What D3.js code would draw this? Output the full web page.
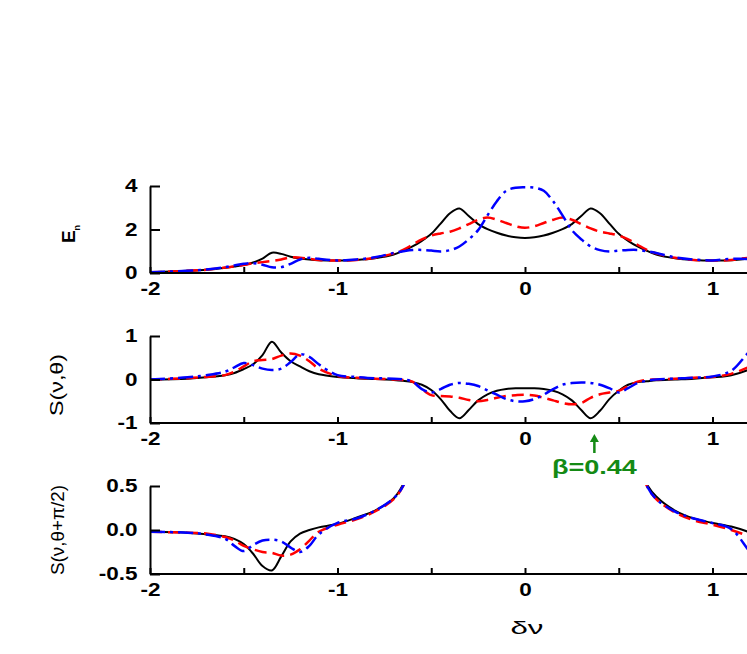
<!DOCTYPE html>
<html>
  <head>
    <meta charset="utf-8">
    <script src="https://d3js.org/d3.v7.min.js"></script>
    <style>
      body { margin: 0; background: #fff; }
      svg { display: block; }
      text { font-family: "Liberation Sans", Arial, sans-serif; }
    </style>
  </head>
<body>
<script type="text/javascript">
"use strict";

// detuning grid shared by all curves
var nu = [-2.0,-1.8,-1.7,-1.6,-1.55,-1.5,-1.45,-1.4,-1.35,-1.3,-1.25,-1.2,-1.15,-1.1,-1.0,-0.9,-0.8,-0.7,-0.65,-0.6,
          -0.55,-0.5,-0.45,-0.4,-0.35,-0.3,-0.25,-0.2,-0.15,-0.1,-0.05,0,0.05,0.1,0.15,0.2,0.25,0.3,0.35,0.4,0.45,0.5,0.55,
          0.6,0.65,0.7,0.8,0.9,1.0,1.1,1.2,1.3];

// E_n
var enBlack = [0.03,0.10,0.15,0.24,0.30,0.37,0.48,0.66,0.93,0.88,0.75,0.67,0.62,0.59,0.57,0.60,0.68,0.85,1.02,1.22,
               1.48,1.80,2.27,2.75,2.97,2.62,2.25,2.02,1.85,1.72,1.64,1.61,1.64,1.72,1.85,2.02,2.25,2.62,2.97,2.75,2.27,1.80,1.48,
               1.22,1.02,0.85,0.68,0.60,0.57,0.59,0.67,0.88];
var enRed = [0.03,0.10,0.15,0.25,0.30,0.37,0.45,0.50,0.55,0.62,0.72,0.70,0.65,0.60,0.57,0.60,0.70,0.90,1.06,1.30,
             1.55,1.72,1.82,1.90,2.05,2.25,2.45,2.55,2.45,2.30,2.15,2.08,2.15,2.30,2.45,2.55,2.45,2.25,2.05,1.90,1.82,1.72,1.55,
             1.30,1.06,0.90,0.70,0.60,0.57,0.60,0.70,0.62];
var enBlue = [0.03,0.10,0.16,0.27,0.35,0.42,0.45,0.38,0.26,0.27,0.42,0.62,0.70,0.65,0.58,0.62,0.72,0.92,1.00,1.06,
              1.06,1.03,0.99,1.05,1.22,1.55,1.97,2.65,3.30,3.78,3.92,3.94,3.92,3.78,3.30,2.65,1.97,1.55,1.22,1.05,0.99,1.03,1.06,
              1.06,1.00,0.92,0.72,0.62,0.58,0.65,0.62,0.27];

// S(nu, theta)
var sBlack = [0.00,0.02,0.05,0.10,0.15,0.24,0.35,0.56,0.87,0.62,0.42,0.30,0.19,0.12,0.06,0.03,0.01,-0.01,-0.03,-0.06,
              -0.12,-0.24,-0.45,-0.72,-0.89,-0.70,-0.48,-0.34,-0.26,-0.22,-0.20,-0.20,-0.20,-0.22,-0.26,-0.34,-0.48,-0.70,-0.89,-0.72,-0.45,-0.26,-0.12,
              -0.06,-0.04,-0.02,0.00,0.02,0.05,0.10,0.24,0.55];
var sRed = [0.00,0.03,0.06,0.10,0.18,0.30,0.42,0.45,0.47,0.55,0.60,0.55,0.42,0.25,0.08,0.04,0.02,0.00,-0.01,-0.05,
            -0.22,-0.36,-0.38,-0.39,-0.42,-0.47,-0.50,-0.47,-0.42,-0.38,-0.36,-0.35,-0.37,-0.42,-0.48,-0.54,-0.57,-0.54,-0.42,-0.34,-0.30,-0.26,-0.15,
            -0.05,-0.01,0.00,0.02,0.04,0.06,0.13,0.30,0.50];
var sBlue = [0.00,0.05,0.10,0.18,0.28,0.38,0.33,0.25,0.22,0.25,0.40,0.58,0.52,0.35,0.10,0.06,0.03,0.02,0.00,-0.05,
             -0.22,-0.30,-0.22,-0.12,-0.08,-0.10,-0.15,-0.25,-0.35,-0.45,-0.50,-0.50,-0.45,-0.35,-0.22,-0.12,-0.08,-0.07,-0.08,-0.12,-0.20,-0.30,-0.20,
             -0.08,-0.03,0.00,0.02,0.04,0.07,0.20,0.65,0.95];

// S(nu, theta + pi/2), goes off scale in the middle
var sqBlack = [-0.02,-0.03,-0.05,-0.07,-0.10,-0.16,-0.27,-0.41,-0.46,-0.30,-0.13,-0.04,0.00,0.03,0.07,0.14,0.22,0.36,0.52,0.80,
               null,null,null,null,null,null,null,null,null,null,null,null,null,null,null,null,null,null,null,null,null,null,null,
               0.80,0.52,0.38,0.22,0.13,0.08,0.04,-0.03,-0.15];
var sqRed = [-0.02,-0.03,-0.04,-0.08,-0.12,-0.18,-0.22,-0.25,-0.26,-0.29,-0.28,-0.22,-0.12,-0.02,0.06,0.12,0.21,0.35,0.50,0.80,
             null,null,null,null,null,null,null,null,null,null,null,null,null,null,null,null,null,null,null,null,null,null,null,
             0.80,0.50,0.35,0.20,0.11,0.06,0.00,-0.08,-0.20];
var sqBlue = [-0.02,-0.03,-0.05,-0.10,-0.18,-0.24,-0.17,-0.12,-0.11,-0.13,-0.20,-0.25,-0.18,-0.05,0.08,0.13,0.22,0.36,0.50,0.80,
              null,null,null,null,null,null,null,null,null,null,null,null,null,null,null,null,null,null,null,null,null,null,null,
              0.80,0.50,0.35,0.21,0.13,0.08,0.01,-0.25,-0.50];

var xTicks = [-2,-1.5,-1,-0.5,0,0.5,1];
var enTicks = [0,2,4];
var sTicks = [-1,0,1];
var sqTicks = [-0.5,0,0.5];
var marker = [{nu: 0.37, label: "\u03b2=0.44"}];

function draw() {
    var width = 747, height = 654;
    var green = "#148a14";

    var svg = d3.select("body").append("svg")
        .attr("width", width)
        .attr("height", height);

    var x = d3.scaleLinear().domain([-2, 2]).range([150, 900]);

    var styles = [
        {color: "#000", dash: null, w: 2},
        {color: "#ff0000", dash: "12,6", w: 2.5},
        {color: "#0000ff", dash: "15,5,3,5", w: 2.5}
    ];

    var panels = [
        {top: 186, bottom: 273, dom: [0, 4], ticks: enTicks, fmt: function(d) { return String(d); },
         series: [enBlack, enRed, enBlue]},
        {top: 336, bottom: 423, dom: [-1, 1], ticks: sTicks, fmt: function(d) { return String(d); },
         series: [sBlack, sRed, sBlue]},
        {top: 486, bottom: 574, dom: [-0.5, 0.5], ticks: sqTicks, fmt: function(d) { return d3.format(".1f")(d).replace("\u2212", "-"); },
         series: [sqBlack, sqRed, sqBlue]}
    ];

    panels.forEach(function(p, i) {
        var y = d3.scaleLinear().domain(p.dom).range([p.bottom, p.top]);

        svg.append("clipPath").attr("id", "clip" + i)
          .append("rect")
            .attr("x", x(-2)).attr("y", p.top - 1)
            .attr("width", x(2) - x(-2)).attr("height", p.bottom - p.top + 1);

        var line = d3.line()
            .defined(function(d) { return d[1] !== null; })
            .x(function(d) { return x(d[0]); })
            .y(function(d) { return y(d[1]); })
            .curve(d3.curveCatmullRom.alpha(0.5));

        var g = svg.append("g").attr("clip-path", "url(#clip" + i + ")");
        p.series.forEach(function(vals, k) {
            var pts = nu.map(function(v, j) { return [v, vals[j]]; });
            g.append("path")
                .attr("d", line(pts))
                .attr("fill", "none")
                .attr("stroke", styles[k].color)
                .attr("stroke-width", styles[k].w)
                .attr("stroke-dasharray", styles[k].dash)
                .attr("stroke-linejoin", "round");
        });

        // axes, ticks pointing inward
        var xa = svg.append("g")
            .attr("transform", "translate(0," + p.bottom + ")")
            .call(d3.axisBottom(x).tickValues(xTicks).tickSizeInner(-6).tickSizeOuter(0).tickPadding(9)
                .tickFormat(function(d) { return Number.isInteger(d) ? String(d) : ""; }));
        xa.select(".domain").attr("d", "M" + x(-2) + ",0H" + width);
        var ya = svg.append("g")
            .attr("transform", "translate(" + x(-2) + ",0)")
            .call(d3.axisLeft(y).tickValues(p.ticks).tickSizeInner(-10).tickSizeOuter(0).tickPadding(10)
                .tickFormat(p.fmt));

        [xa, ya].forEach(function(a) {
            a.select(".domain").attr("stroke-width", 2);
            a.selectAll(".tick line").attr("stroke-width", 2);
            a.selectAll(".tick text")
                .attr("fill", "#000")
                .attr("transform", "scale(1.25,1)")
                .style("font-family", "'Liberation Sans', Arial, sans-serif")
                .style("font-size", "18px")
                .style("font-weight", "bold");
        });
    });

    // y titles
    var en = svg.append("text")
        .attr("transform", "translate(75,234) rotate(-90)")
        .attr("text-anchor", "middle")
        .style("font-size", "19px")
        .style("font-weight", "bold");
    en.append("tspan").text("E");
    en.append("tspan").attr("dy", 5).style("font-size", "9px").text("n");

    svg.append("text")
        .attr("transform", "translate(63,385) rotate(-90)")
        .attr("text-anchor", "middle")
        .attr("textLength", 62)
        .attr("lengthAdjust", "spacingAndGlyphs")
        .style("font-size", "18px")
        .text("S(\u03bd,\u03b8)");

    svg.append("text")
        .attr("transform", "translate(64,530) rotate(-90)")
        .attr("text-anchor", "middle")
        .attr("textLength", 90)
        .attr("lengthAdjust", "spacingAndGlyphs")
        .style("font-size", "18px")
        .text("S(\u03bd,\u03b8+\u03c0/2)");

    svg.append("text")
        .attr("x", 527).attr("y", 634)
        .attr("text-anchor", "middle")
        .attr("textLength", 33)
        .attr("lengthAdjust", "spacingAndGlyphs")
        .style("font-size", "18px")
        .text("\u03b4\u03bd");

    // marker arrow under the middle panel
    marker.forEach(function(m) {
        var mx = x(m.nu);
        svg.append("line")
            .attr("x1", mx).attr("x2", mx)
            .attr("y1", 453).attr("y2", 441)
            .attr("stroke", green).attr("stroke-width", 2.5);
        svg.append("path")
            .attr("d", "M" + (mx - 4.5) + ",442L" + mx + ",434L" + (mx + 4.5) + ",442Z")
            .attr("fill", green);
        svg.append("text")
            .attr("x", mx).attr("y", 474)
            .attr("text-anchor", "middle")
            .attr("textLength", 85)
            .attr("lengthAdjust", "spacingAndGlyphs")
            .attr("fill", green)
            .style("font-size", "21px")
            .style("font-weight", "bold")
            .text(m.label);
    });
}

draw();
</script>
</body>
</html>
